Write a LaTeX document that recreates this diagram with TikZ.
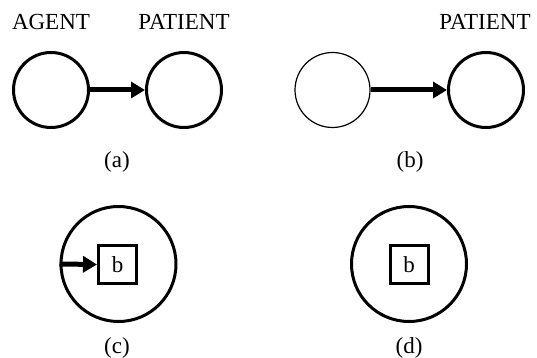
\documentclass[tikz,border=0pt]{standalone}
\usepackage{fontspec}
\setmainfont{Liberation Serif}
\usetikzlibrary{arrows.meta}
\begin{document}
\begin{tikzpicture}[x=1pt,y=-1pt,
  lbl/.style={font=\fontsize{23}{26}\selectfont, inner sep=0pt},
  role/.style={circle, draw, line width=3pt, minimum size=75pt, inner sep=0pt},
  thinrole/.style={circle, draw, line width=1.2pt, minimum size=75pt, inner sep=0pt},
  bigrole/.style={circle, draw, line width=3pt, minimum size=115pt, inner sep=0pt},
  boxb/.style={draw, line width=3pt, minimum size=38pt, inner sep=0pt, font=\fontsize{23}{26}\selectfont},
  rel/.style={line width=5pt, -{Triangle[length=14pt,width=16pt]}}]
\useasboundingbox (0,0) rectangle (537,358);
% (a)
\node[lbl] (agent) at (51,22) {AGENT};
\node[lbl] (patA) at (184,22) {PATIENT};
\node[role] (a1) at (51,90) {};
\node[role] (a2) at (184,90) {};
\draw[rel] (a1) -- (a2);
\node[lbl] (capa) at (117,162) {(a)};
% (b)
\node[lbl] (patB) at (485,22) {PATIENT};
\node[thinrole] (b1) at (332.5,90) {};
\node[role] (b2) at (486,90) {};
\draw[rel] (b1) -- (b2);
\node[lbl] (capb) at (410,162) {(b)};
% (c)
\node[bigrole] (c1) at (118.5,264) {};
\node[boxb] (cb) at (117.5,264.5) {b};
\draw[rel] (c1.west) -- (cb.west);
\node[lbl] (capc) at (117,348) {(c)};
% (d)
\node[bigrole] (d1) at (409,264) {};
\node[boxb] (db) at (409,264.5) {b};
\node[lbl] (capd) at (409,348) {(d)};
\end{tikzpicture}
\end{document}
